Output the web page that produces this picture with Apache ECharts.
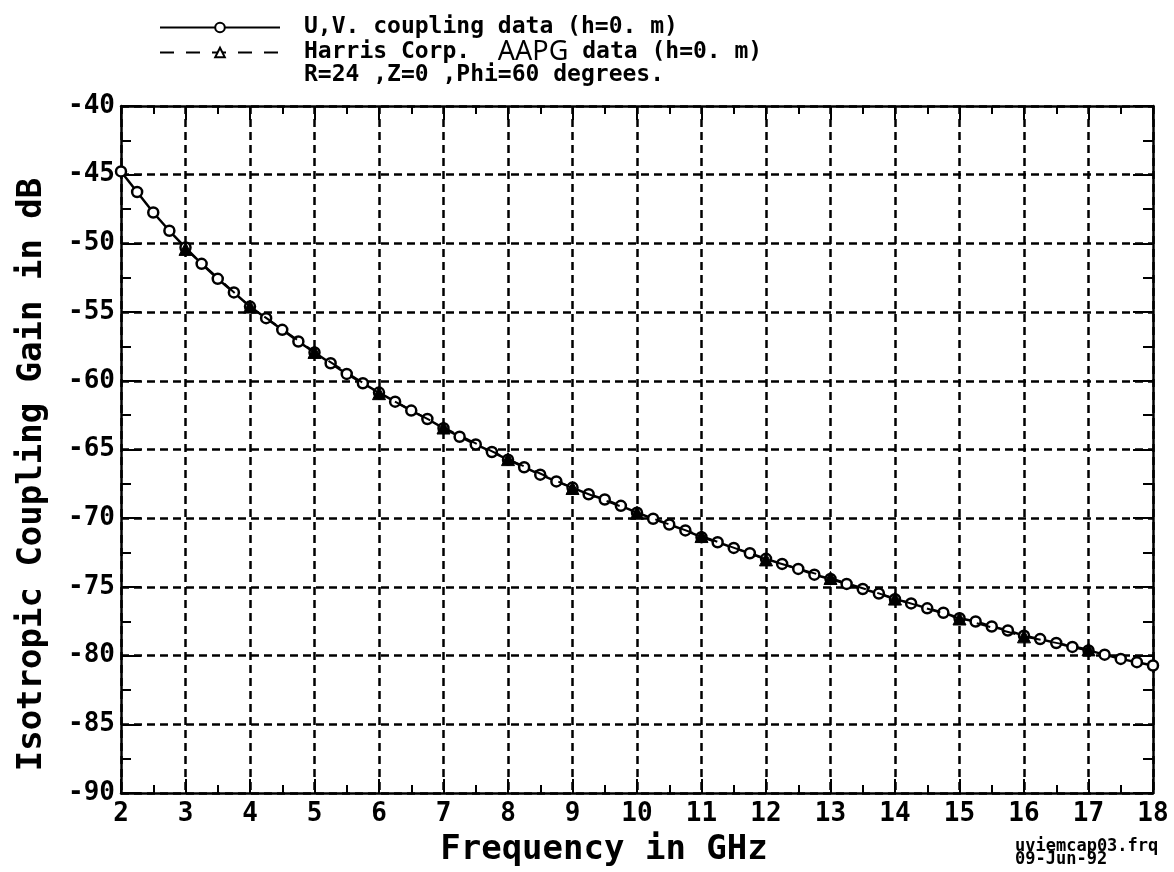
<!DOCTYPE html>
<html>
<head>
<meta charset="utf-8">
<script src="https://cdn.jsdelivr.net/npm/echarts@6/dist/echarts.min.js"></script>
<style>
  html, body { margin: 0; padding: 0; background: #fff; }
  #chart { width: 1174px; height: 872px; }
</style>
</head>
<body>
<div id="chart"></div>
<script>
// frequency points of the U,V run (GHz)
const uvFreq = [2, 2.25, 2.5, 2.75, 3, 3.25, 3.5, 3.75, 4, 4.25, 4.5, 4.75,
  5, 5.25, 5.5, 5.75, 6, 6.25, 6.5, 6.75, 7, 7.25, 7.5, 7.75,
  8, 8.25, 8.5, 8.75, 9, 9.25, 9.5, 9.75, 10, 10.25, 10.5, 10.75,
  11, 11.25, 11.5, 11.75, 12, 12.25, 12.5, 12.75, 13, 13.25, 13.5, 13.75,
  14, 14.25, 14.5, 14.75, 15, 15.25, 15.5, 15.75, 16, 16.25, 16.5, 16.75,
  17, 17.25, 17.5, 17.75, 18]
const uvGain = [-44.76, -46.26, -47.75, -49.08, -50.3, -51.49, -52.58, -53.57, -54.6, -55.44, -56.29, -57.14,
  -57.94, -58.72, -59.5, -60.18, -60.86, -61.52, -62.17, -62.78, -63.45, -64.07, -64.63, -65.18,
  -65.74, -66.29, -66.83, -67.32, -67.77, -68.26, -68.64, -69.1, -69.6, -70.04, -70.46, -70.89,
  -71.38, -71.75, -72.16, -72.55, -72.96, -73.33, -73.69, -74.11, -74.42, -74.78, -75.15, -75.48,
  -75.89, -76.2, -76.56, -76.88, -77.28, -77.52, -77.88, -78.17, -78.55, -78.8, -79.08, -79.37,
  -79.62, -79.93, -80.24, -80.48, -80.72]

// Harris Corp. AAPG points
const harrisFreq = [3, 4, 5, 6, 7, 8, 9, 10, 11, 12, 13, 14, 15, 16, 17]
const harrisGain = [-50.4, -54.6, -57.9, -60.9, -63.4, -65.7, -67.8, -69.6, -71.3, -73.0, -74.35, -75.85, -77.3, -78.6, -79.55]

const uvName = 'U,V. coupling data (h=0. m)'
const harrisName = 'Harris Corp.  AAPG data (h=0. m)'

const FONT = '"DejaVu Sans Mono", monospace'

const chart = echarts.init(document.getElementById('chart'))

const gridLine = { show: true, lineStyle: { color: '#000', width: 2.5, type: [8, 5] } }
const frameLine = { show: true, onZero: false, lineStyle: { color: '#000', width: 2.5 } }

const xBase = {
  type: 'value', min: 2, max: 18, interval: 1,
  axisLine: frameLine,
  axisTick: { show: true, inside: true, length: 14, lineStyle: { color: '#000', width: 2 } },
  minorTick: { show: true, splitNumber: 2, length: 8, lineStyle: { color: '#000', width: 2 } }
}
const yBase = {
  type: 'value', min: -90, max: -40, interval: 5,
  axisLine: frameLine,
  axisTick: { show: true, inside: true, length: 20, lineStyle: { color: '#000', width: 2 } },
  minorTick: { show: true, splitNumber: 2, length: 10, lineStyle: { color: '#000', width: 2 } }
}

chart.setOption({
  animation: false,
  backgroundColor: '#fff',
  grid: { left: 121, right: 21, top: 106, bottom: 79 },
  legend: {
    orient: 'vertical',
    left: 154, top: 11,
    itemWidth: 120, itemHeight: 12, itemGap: 0,
    textStyle: {
      fontFamily: FONT, fontWeight: 'bold', fontSize: 23, color: '#000',
      lineHeight: 23, padding: [0, 0, 0, 19],
      rich: { a: { fontFamily: 'Noto Sans', fontSize: 27, lineHeight: 23, fontWeight: 'normal', color: '#000' } }
    },
    formatter: (name) => name === harrisName ? 'Harris Corp.  {a|AAPG} data (h=0. m)' : name,
    data: [
      { name: uvName },
      { name: harrisName, itemStyle: { color: '#fff', borderColor: '#000', borderWidth: 2 } }
    ]
  },
  graphic: [
    { type: 'text', left: 304, top: 64,
      style: { text: 'R=24 ,Z=0 ,Phi=60 degrees.', font: 'bold 23px ' + FONT, fill: '#000' } },
    { type: 'text', left: 1015, top: 838,
      style: { text: 'uviemcap03.frq\n09-Jun-92', font: 'bold 17px ' + FONT, fill: '#000', lineHeight: 13 } }
  ],
  xAxis: [
    Object.assign({}, xBase, {
      position: 'bottom',
      name: 'Frequency in GHz', nameLocation: 'middle', nameGap: 40,
      nameTextStyle: { fontFamily: FONT, fontWeight: 'bold', fontSize: 34, color: '#000', padding: [0, 66, 0, 0] },
      axisLabel: { margin: 8, fontFamily: FONT, fontWeight: 'bold', fontSize: 26, color: '#000' },
      splitLine: gridLine
    }),
    Object.assign({}, xBase, { position: 'top', axisLabel: { show: false }, splitLine: { show: false } })
  ],
  yAxis: [
    Object.assign({}, yBase, {
      position: 'left',
      name: 'Isotropic Coupling Gain in dB', nameLocation: 'middle', nameGap: 72,
      nameTextStyle: { fontFamily: FONT, fontWeight: 'bold', fontSize: 34, color: '#000', padding: [0, 50, 0, 0] },
      axisLabel: { margin: 6, fontFamily: FONT, fontWeight: 'bold', fontSize: 26, color: '#000' },
      splitLine: gridLine
    }),
    Object.assign({}, yBase, { position: 'right', axisLabel: { show: false }, splitLine: { show: false } })
  ],
  series: [
    {
      name: uvName,
      type: 'line',
      data: uvFreq.map((f, i) => [f, uvGain[i]]),
      symbol: 'circle', symbolSize: 10, showAllSymbol: true,
      lineStyle: { color: '#000', width: 2.5 },
      itemStyle: { color: '#fff', borderColor: '#000', borderWidth: 2.5 },
      z: 3
    },
    {
      name: harrisName,
      type: 'line',
      data: harrisFreq.map((f, i) => [f, harrisGain[i]]),
      symbol: 'triangle', symbolSize: 13, showAllSymbol: true,
      lineStyle: { color: '#000', width: 2, type: [14, 12] },
      itemStyle: { color: '#000', borderColor: '#000', borderWidth: 1 },
      z: 4
    }
  ]
})
</script>
</body>
</html>
